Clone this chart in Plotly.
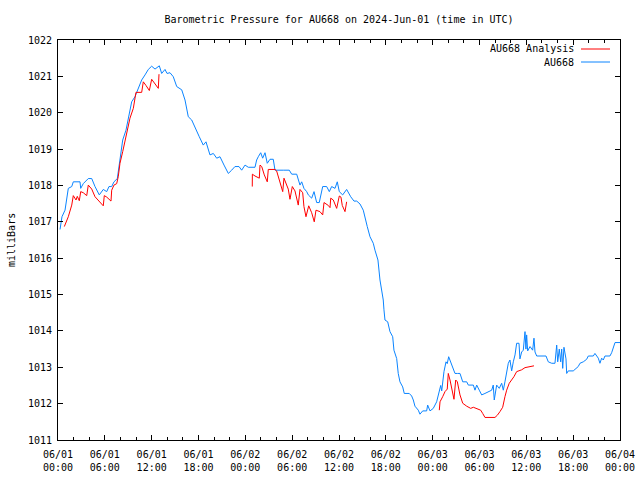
import pandas as pd
import plotly.graph_objects as go

START = "2024-06-01 00:00"

# AU668 observed pressure: hours after START, millibars
au668_hours = [0.26, 0.51, 0.90, 1.32, 1.76, 1.96, 2.82, 2.91, 3.24, 3.88, 4.32, 4.74, 5.29, 5.80, 6.24,
               6.53, 6.88, 7.17, 7.60, 7.94, 8.29, 8.71, 9.01, 9.44, 9.86, 10.29, 10.72, 11.15, 11.57,
               12.00, 12.43, 12.98, 13.28, 13.71, 13.97, 14.35, 14.77, 15.21, 15.85, 16.27, 16.69,
               17.13, 17.55, 18.10, 18.61, 18.96, 19.47, 19.90, 20.33, 20.75, 21.27, 21.82, 22.25,
               22.67, 23.19, 23.53, 23.96, 24.38, 25.24, 25.45, 25.66, 25.97, 26.22, 26.52, 26.81,
               27.16, 27.58, 27.80, 28.86, 29.63, 29.94, 30.58, 31.00, 31.22, 31.51, 31.86, 32.07,
               32.50, 32.80, 33.14, 33.47, 33.91, 34.42, 34.76, 35.06, 35.49, 35.78, 36.04, 36.47,
               36.98, 37.50, 37.92, 38.27, 38.69, 39.11, 39.33, 39.62, 39.97, 40.39, 40.61, 40.99,
               41.25, 41.67, 41.76, 41.89, 42.24, 42.53, 42.88, 43.04, 43.39, 43.59, 43.81, 44.16,
               44.36, 45.00, 45.31, 45.52, 45.73, 46.16, 46.37, 46.72, 47.23, 47.36, 47.66, 48.08,
               48.51, 48.85, 49.03, 49.16, 49.28, 49.45, 49.71, 49.87, 50.05, 50.31, 50.64, 50.86,
               51.16, 51.50, 51.85, 52.36, 52.57, 53.21, 53.42, 53.64, 53.97, 54.28, 54.70, 55.12,
               55.56, 55.76, 55.89, 56.20, 56.53, 56.84, 57.05, 57.26, 57.48, 57.69, 57.90, 58.12,
               58.33, 58.55, 58.76, 59.06, 59.18, 59.40, 59.61, 59.83, 59.95, 60.04, 60.17, 60.47,
               60.81, 60.98, 61.11, 61.33, 62.52, 62.81, 63.25, 63.67, 63.89, 64.02, 64.22, 64.40,
               64.53, 64.66, 64.82, 65.08, 65.17, 65.37, 66.01, 66.36, 66.65, 66.87, 67.30, 67.73,
               67.94, 68.58, 68.79, 69.22, 69.43, 69.65, 69.86, 70.07, 70.71, 70.93, 71.14, 71.36,
               72.00]
au668_mb = [1016.79, 1017.14, 1017.32, 1017.92, 1017.97, 1018.10, 1018.10, 1017.92, 1018.05, 1018.19,
            1018.19, 1017.97, 1017.74, 1017.89, 1017.83, 1017.97, 1017.97, 1018.10, 1018.19, 1018.79,
            1019.25, 1019.52, 1019.89, 1020.30, 1020.44, 1020.67, 1020.90, 1021.04, 1021.19, 1021.28,
            1021.20, 1021.29, 1021.08, 1021.19, 1021.08, 1021.10, 1020.99, 1020.72, 1020.63, 1020.35,
            1019.89, 1019.80, 1019.62, 1019.34, 1019.11, 1019.20, 1018.84, 1018.88, 1018.75, 1018.79,
            1018.56, 1018.33, 1018.42, 1018.52, 1018.52, 1018.42, 1018.56, 1018.50, 1018.50, 1018.70,
            1018.79, 1018.90, 1018.75, 1018.90, 1018.61, 1018.72, 1018.72, 1018.42, 1018.42, 1018.42,
            1018.31, 1018.31, 1018.01, 1018.10, 1017.92, 1017.83, 1017.74, 1017.65, 1017.83, 1017.53,
            1017.53, 1017.97, 1017.97, 1017.83, 1017.97, 1017.92, 1018.10, 1017.83, 1017.74, 1017.89,
            1017.69, 1017.57, 1017.57, 1017.49, 1017.32, 1017.10, 1016.87, 1016.59, 1016.41, 1016.22,
            1015.95, 1015.40, 1014.85, 1014.58, 1014.30, 1014.25, 1013.98, 1013.84, 1013.47, 1013.24,
            1012.83, 1012.60, 1012.46, 1012.28, 1012.28, 1012.21, 1012.10, 1011.93, 1011.82, 1011.71,
            1011.80, 1011.80, 1011.96, 1011.80, 1011.87, 1012.05, 1012.37, 1012.50, 1012.35, 1012.65,
            1012.88, 1013.15, 1013.10, 1013.29, 1013.15, 1012.97, 1012.83, 1012.83, 1012.83, 1012.60,
            1012.60, 1012.51, 1012.51, 1012.37, 1012.51, 1012.37, 1012.24, 1012.28, 1012.33, 1012.37,
            1012.51, 1012.10, 1012.51, 1012.42, 1012.56, 1012.37, 1012.60, 1012.83, 1013.11, 1013.20,
            1012.90, 1013.15, 1013.34, 1013.66, 1013.66, 1013.23, 1013.42, 1013.47, 1013.98, 1013.50,
            1013.89, 1013.45, 1013.57, 1013.47, 1013.80, 1013.42, 1013.31, 1013.31, 1013.15, 1013.11,
            1013.11, 1013.61, 1013.15, 1013.50, 1013.15, 1013.50, 1012.97, 1013.55, 1013.23, 1012.83,
            1012.90, 1012.90, 1012.97, 1013.02, 1013.11, 1013.15, 1013.22, 1013.31, 1013.31, 1013.38,
            1013.25, 1013.11, 1013.25, 1013.20, 1013.31, 1013.31, 1013.40, 1013.57, 1013.68, 1013.68]

# AU668 Analysis: three runs separated by gaps (None)
analysis_hours = [0.81, 1.32, 1.76, 1.96, 2.31, 2.47, 2.73, 2.91, 3.24, 3.68, 3.88, 4.32, 4.74, 5.16,
                  5.80, 5.93, 6.24, 6.79, 6.88, 7.17, 7.52, 7.72, 7.94, 8.29, 8.58, 8.88, 9.22, 9.65,
                  9.86, 9.99, 10.72, 10.93, 11.27, 11.70, 12.00, 12.43, 12.85, 12.94,
                  12.95,
                  24.89, 24.90, 25.24, 25.79, 25.88, 26.10, 26.43, 26.81, 26.94, 27.80, 28.01, 28.22,
                  28.44, 28.79, 28.95, 29.21, 29.50, 29.72, 30.02, 30.36, 30.78, 31.00, 31.35, 31.51,
                  31.77, 32.12, 32.50, 32.83, 33.05, 33.56, 33.91, 34.08, 34.63, 34.85, 34.94, 35.27,
                  35.70, 36.04, 36.25, 36.42, 36.77, 36.98,
                  37.00,
                  48.85, 48.94, 49.28, 49.58, 49.87, 50.00, 50.22, 50.44, 50.73, 50.95, 51.16, 51.50,
                  51.85, 52.36, 52.87, 53.21, 53.85, 54.15, 54.41, 54.70, 55.98, 56.28, 56.62, 56.97,
                  57.26, 57.48, 57.81, 58.12, 58.41, 58.76, 59.40, 59.83, 60.47, 60.98]
analysis_mb = [1016.87, 1017.14, 1017.46, 1017.72, 1017.60, 1017.70, 1017.58, 1017.83, 1017.80, 1017.72,
               1018.01, 1017.90, 1017.69, 1017.60, 1017.44, 1017.72, 1017.68, 1017.57, 1017.87, 1018.01,
               1018.05, 1018.24, 1018.61, 1018.93, 1019.20, 1019.48, 1019.85, 1020.12, 1020.49, 1020.56,
               1020.56, 1020.85, 1020.75, 1020.61, 1020.92, 1020.80, 1020.67, 1021.06,
               None,
               1017.97, 1018.31, 1018.26, 1018.20, 1018.56, 1018.52, 1018.29, 1018.10, 1018.44, 1018.44,
               1018.40, 1018.24, 1018.10, 1017.83, 1018.20, 1018.05, 1017.90, 1017.62, 1017.97, 1017.85,
               1017.46, 1017.89, 1017.80, 1017.42, 1017.14, 1017.44, 1017.25, 1017.00, 1017.32, 1017.28,
               1017.19, 1017.53, 1017.45, 1017.39, 1017.65, 1017.60, 1017.37, 1017.71, 1017.68, 1017.45,
               1017.28, 1017.55,
               None,
               1011.82, 1012.05, 1012.19, 1012.33, 1012.40, 1012.83, 1012.65, 1012.40, 1012.12, 1012.65,
               1012.60, 1012.24, 1012.01, 1011.93, 1011.87, 1011.90, 1011.85, 1011.82, 1011.73, 1011.62,
               1011.62, 1011.68, 1011.78, 1011.90, 1012.19, 1012.37, 1012.56, 1012.65, 1012.74, 1012.88,
               1012.93, 1012.99, 1013.02, 1013.04]

series_names = ["AU668 Analysis", "AU668"]
series_colors = ["#ff0000", "#0a84ff"]

base = pd.Timestamp(START)
t_obs = base + pd.to_timedelta(au668_hours, unit="h")
t_ana = base + pd.to_timedelta(analysis_hours, unit="h")

FONT = "DejaVu Sans Mono"
W, H = 640, 480
L, T = 58, 40
PW, PH = 562, 400
R, B = W - L - PW, H - T - PH


def px_x(page_x):
    return (page_x - L) / PW


def px_y(page_y):
    return (T + PH - page_y) / PH


fig = go.Figure()
fig.add_trace(go.Scatter(x=t_obs, y=au668_mb, mode="lines", name=series_names[1],
                         line=dict(color=series_colors[1], width=1), showlegend=False))
fig.add_trace(go.Scatter(x=t_ana, y=analysis_mb, mode="lines", name=series_names[0],
                         line=dict(color=series_colors[0], width=1), connectgaps=False,
                         showlegend=False))

# gnuplot-style key: text right-aligned, line sample to the right
for i, (nm, col) in enumerate(zip(series_names, series_colors)):
    ypos = px_y(49 + i * 13)
    fig.add_annotation(x=px_x(576), y=ypos, xref="paper", yref="paper", text=nm, showarrow=False,
                       xanchor="right", yanchor="middle",
                       font=dict(family=FONT, size=10, color="black"))
    fig.add_shape(type="line", xref="paper", yref="paper", x0=px_x(581), x1=px_x(610),
                  y0=ypos, y1=ypos, line=dict(color=col, width=1))

# y-axis title placed like gnuplot
fig.add_annotation(x=px_x(11), y=0.5, xref="paper", yref="paper", text="milliBars",
                   textangle=-90, showarrow=False, xanchor="center", yanchor="middle",
                   font=dict(family=FONT, size=10, color="black"))

fig.update_layout(
    width=W, height=H,
    margin=dict(l=L, r=R, t=T, b=B, autoexpand=False),
    paper_bgcolor="white", plot_bgcolor="white",
    font=dict(family=FONT, size=10, color="black"),
    title=dict(text="Barometric Pressure for AU668 on 2024-Jun-01 (time in UTC)",
               x=(L + PW / 2) / W, xanchor="center", y=1 - 19 / H, yanchor="middle",
               font=dict(family=FONT, size=10)),
    showlegend=False,
)
fig.update_xaxes(
    range=[base, base + pd.Timedelta(hours=72)], automargin=False,
    type="date", tick0=base, dtick=6 * 3600000, tickformat="%m/%d<br>%H:%M",
    ticks="inside", ticklen=5, tickcolor="black", showline=True, linecolor="black", linewidth=1,
    mirror="allticks", showgrid=False, zeroline=False, ticklabelstandoff=5,
    minor=dict(dtick=2 * 3600000, tick0=base, ticks="inside", ticklen=3, tickcolor="black", showgrid=False),
    tickfont=dict(family=FONT, size=10),
)
fig.update_yaxes(
    range=[1011, 1022], dtick=1, tick0=1011, tickformat="d", automargin=False,
    ticks="inside", ticklen=5, tickcolor="black", showline=True, linecolor="black", linewidth=1,
    mirror="allticks", showgrid=False, zeroline=False, ticklabelstandoff=3,
    tickfont=dict(family=FONT, size=10),
)

# remove the browser's default 8px body margin so the figure sits at the page origin
fig.write_html("out.html", config={"displayModeBar": False, "staticPlot": True},
               post_script="document.body.style.margin='0';")
